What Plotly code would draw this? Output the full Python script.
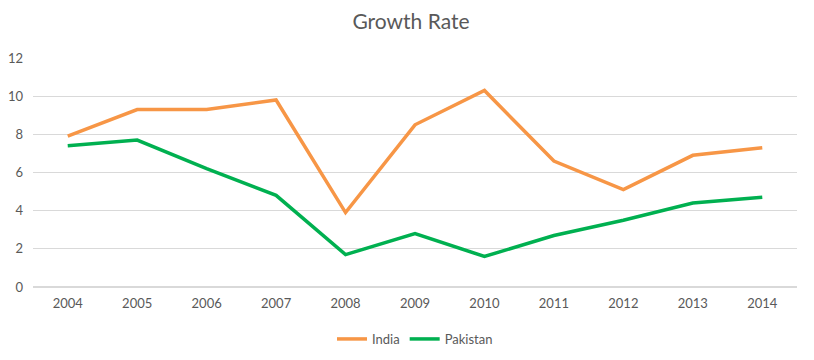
import plotly.graph_objects as go

years = ["2004", "2005", "2006", "2007", "2008", "2009", "2010", "2011", "2012", "2013", "2014"]
india = [7.9, 9.3, 9.3, 9.8, 3.9, 8.5, 10.3, 6.6, 5.1, 6.9, 7.3]
pakistan = [7.4, 7.7, 6.2, 4.8, 1.7, 2.8, 1.6, 2.7, 3.5, 4.4, 4.7]

fig = go.Figure()
fig.add_trace(go.Scatter(x=years, y=india, name="India", mode="lines",
                         line=dict(color="#F79646", width=3.5)))
fig.add_trace(go.Scatter(x=years, y=pakistan, name="Pakistan", mode="lines",
                         line=dict(color="#00B050", width=3.5)))

fig.update_layout(
    width=806, height=352,
    paper_bgcolor="white", plot_bgcolor="white",
    margin=dict(l=25, r=17, t=50, b=73, autoexpand=False),
    font=dict(family="Lato, Open Sans, sans-serif", color="#595959", size=13),
    title=dict(text="Growth Rate", x=0.5, xanchor="center", y=0.96, yanchor="middle",
               font=dict(size=21, color="#595959")),
    xaxis=dict(type="category", range=[-0.5, 10.5], showgrid=False, showline=False,
               zeroline=False, ticks="", ticklabelstandoff=7, automargin=False),
    yaxis=dict(range=[0, 12], dtick=2, showgrid=True, gridcolor="#D9D9D9",
               zeroline=True, zerolinecolor="#D9D9D9", showline=False, ticks="",
               ticklabelstandoff=9, automargin=False),
    legend=dict(orientation="h", x=0.5, xanchor="center", y=-0.227, yanchor="middle",
                font=dict(size=13, color="#595959"), itemwidth=30),
    showlegend=True,
)

fig.write_html("out.html")
